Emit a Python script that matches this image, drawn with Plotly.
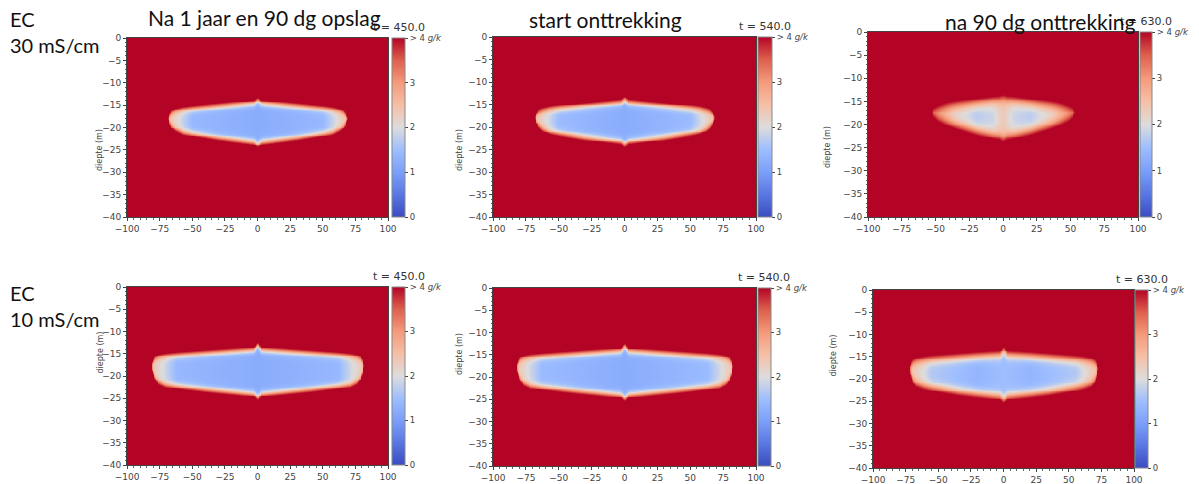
import numpy as np
import plotly.graph_objects as go

W, H = 1199, 484

# ---------------- data ----------------
row_labels = ["EC<br>30 mS/cm", "EC<br>10 mS/cm"]
col_titles = ["Na 1 jaar en 90 dg opslag", "start onttrekking", "na 90 dg onttrekking"]
times = [450.0, 540.0, 630.0]

x_ticks = [-100, -75, -50, -25, 0, 25, 50, 75, 100]
y_ticks = [0, -5, -10, -15, -20, -25, -30, -35, -40]
cbar_ticks = [0, 1, 2, 3, 4]
cbar_ticktext = ["0", "1", "2", "3", "> 4 <i>g/k</i>"]
y_title = "diepte (m)"

# fresh-water bubble outlines (x in m, top / bottom depth in m)
# row 1 (30 mS/cm)
a_x = [-68.5, -67.5, -66, -63, -57, -30, -3, 0, 3, 30, 57, 63, 66, 67.5, 68.5]
a_top = [-17.7, -16.9, -16.3, -15.9, -15.6, -14.9, -14.2, -13.6, -14.2, -14.9, -15.6, -15.9, -16.3, -16.9, -17.7]
a_bot = [-18.1, -19.2, -19.9, -20.6, -21.3, -22.5, -23.4, -24.0, -23.4, -22.5, -21.3, -20.6, -19.9, -19.2, -18.1]
a_core_x = [-66, -50, 0, 50, 66]
a_core_v = [2.3, 1.4, 1.2, 1.4, 2.3]

b_x = [-68, -67, -65.5, -62.5, -57, -30, -3, 0, 3, 30, 57, 62.5, 65.5, 67, 68]
b_top = [-17.6, -16.8, -16.2, -15.9, -15.6, -14.9, -14.2, -13.6, -14.2, -14.9, -15.6, -15.9, -16.2, -16.8, -17.6]
b_bot = [-18.1, -19.2, -19.9, -20.6, -21.3, -22.5, -23.4, -24.0, -23.4, -22.5, -21.3, -20.6, -19.9, -19.2, -18.1]
b_core_x = [-65, -50, 0, 50, 65]
b_core_v = [2.3, 1.45, 1.2, 1.45, 2.3]

c_x = [-52.5, -51, -48.5, -44, -40, -20, -3, 0, 3, 20, 40, 44, 48.5, 51, 52.5]
c_top = [-17.0, -16.4, -16.1, -15.8, -15.6, -15.0, -14.3, -14.0, -14.3, -15.0, -15.6, -15.8, -16.1, -16.4, -17.0]
c_bot = [-17.6, -18.4, -19.0, -19.5, -19.9, -21.5, -22.7, -23.2, -22.7, -21.5, -19.9, -19.5, -19.0, -18.4, -17.6]
c_core_x = [-50, -35, -20, -8, 0, 8, 20, 35, 50]
c_core_v = [3.0, 2.1, 1.7, 1.85, 2.35, 1.85, 1.7, 2.1, 3.0]

# row 2 (10 mS/cm)
d_x = [-81, -80, -78.5, -76, -71, -40, -3, 0, 3, 40, 71, 76, 78.5, 80, 81]
d_top = [-17.3, -16.2, -15.6, -15.3, -15.1, -14.5, -13.8, -12.7, -13.8, -14.5, -15.1, -15.3, -15.6, -16.2, -17.3]
d_bot = [-17.9, -19.6, -20.8, -21.6, -22.2, -23.2, -24.2, -25.0, -24.2, -23.2, -22.2, -21.6, -20.8, -19.6, -17.9]
d_core_x = [-79, -62, 0, 62, 79]
d_core_v = [2.3, 1.4, 1.2, 1.4, 2.3]

e_x = [-82, -81, -79.5, -77, -72, -40, -3, 0, 3, 40, 72, 77, 79.5, 81, 82]
e_top = [-17.3, -16.2, -15.6, -15.3, -15.1, -14.5, -13.8, -12.7, -13.8, -14.5, -15.1, -15.3, -15.6, -16.2, -17.3]
e_bot = [-17.9, -19.6, -20.8, -21.6, -22.2, -23.2, -24.2, -25.0, -24.2, -23.2, -22.2, -21.6, -20.8, -19.6, -17.9]
e_core_x = [-80, -63, 0, 63, 80]
e_core_v = [2.3, 1.45, 1.2, 1.45, 2.3]

f_x = [-72, -71, -69.5, -67, -61, -35, -3, 0, 3, 35, 61, 67, 69.5, 71, 72]
f_top = [-17.4, -16.3, -15.8, -15.5, -15.3, -14.8, -14.2, -13.2, -14.2, -14.8, -15.3, -15.5, -15.8, -16.3, -17.4]
f_bot = [-17.9, -19.5, -20.6, -21.3, -21.8, -23.0, -24.0, -24.8, -24.0, -23.0, -21.8, -21.3, -20.6, -19.5, -17.9]
f_core_x = [-70, -55, -20, 0, 20, 55, 70]
f_core_v = [2.4, 1.65, 1.35, 1.5, 1.35, 1.65, 2.4]

fringe_w = [0.38, 0.40, 0.65, 0.38, 0.40, 0.55]

panels_data = [
    (a_x, a_top, a_bot, a_core_x, a_core_v),
    (b_x, b_top, b_bot, b_core_x, b_core_v),
    (c_x, c_top, c_bot, c_core_x, c_core_v),
    (d_x, d_top, d_bot, d_core_x, d_core_v),
    (e_x, e_top, e_bot, e_core_x, e_core_v),
    (f_x, f_top, f_bot, f_core_x, f_core_v),
]

# ---------------- layout geometry (pixels) ----------------
# plot box: x0, x1, y0(top), y1(bottom); colorbar x0, x1
boxes = [
    (127, 388, 38, 217, 392, 405),
    (493, 756, 37, 217, 758, 772),
    (868, 1138, 32, 217, 1140, 1152),
    (127, 388, 287, 465, 392, 405),
    (493, 756, 288, 466, 758, 771),
    (873, 1134, 290, 468, 1135, 1148),
]

coolwarm = [
    [0.0, "#3b4cc0"], [0.125, "#5977e3"], [0.25, "#7b9ff9"], [0.375, "#9ebeff"],
    [0.5, "#dddcdc"], [0.625, "#f6bfa6"], [0.75, "#f49a7b"], [0.875, "#de604d"],
    [1.0, "#b40426"],
]

xg = np.arange(-100, 100.01, 0.5)
yg = np.arange(-40, 0.001, 0.2)
XX, YY = np.meshgrid(xg, yg)


def build_field(ox, otop, obot, cx, cv, w):
    top = np.interp(XX, ox, otop)
    bot = np.interp(XX, ox, obot)
    dist = np.minimum.reduce([top - YY, YY - bot, (XX - ox[0]), (ox[-1] - XX)])
    core = np.interp(XX, cx, cv)
    s = 1.0 / (1.0 + np.exp(-(0.25 - dist) / w))
    v = core + (4.5 - core) * s
    return np.round(np.clip(v, 0, 4.5), 3)


def px(xp):
    return xp / W


def py(yp):
    return 1 - yp / H


fig = go.Figure()
tickfont = dict(family="DejaVu Sans", size=9, color="#444")
annotations = []

for i, ((ox, ot, ob, cx, cv), w, (x0, x1, y0, y1, c0, c1)) in enumerate(zip(panels_data, fringe_w, boxes)):
    n = i + 1
    z = build_field(ox, ot, ob, cx, cv, w)
    xa = "x" if n == 1 else f"x{n}"
    ya = "y" if n == 1 else f"y{n}"
    fig.add_trace(go.Heatmap(
        x=xg, y=yg, z=z, xaxis=xa, yaxis=ya,
        colorscale=coolwarm, zmin=0, zmax=4, zsmooth="best",
        hoverinfo="skip",
        colorbar=dict(
            x=px(c0), xanchor="left", xpad=0, ypad=0,
            y=py(y1), yanchor="bottom", len=(y1 - y0) / H, lenmode="fraction",
            thickness=c1 - c0, thicknessmode="pixels",
            outlinewidth=1, outlinecolor="#888",
            tickvals=cbar_ticks, ticktext=cbar_ticktext,
            ticks="outside", ticklen=3, tickcolor="#444",
            tickfont=dict(family="DejaVu Sans", size=8.5, color="#444"),
        ),
    ))
    xkey = "xaxis" if n == 1 else f"xaxis{n}"
    ykey = "yaxis" if n == 1 else f"yaxis{n}"
    fig.layout[xkey] = dict(
        domain=[px(x0), px(x1)], anchor=ya, range=[-100, 100],
        tickvals=x_ticks, ticks="outside", ticklen=3, tickcolor="#444",
        tickfont=tickfont, showgrid=False, zeroline=False,
        showline=True, linecolor="#444", linewidth=1, mirror=True,
        minor=dict(dtick=5, ticks="outside", ticklen=1.5, tickcolor="#666"),
        automargin=False, fixedrange=True,
    )
    fig.layout[ykey] = dict(
        domain=[py(y1), py(y0)], anchor=xa, range=[-40, 0],
        tickvals=y_ticks, ticks="outside", ticklen=3, tickcolor="#444",
        tickfont=tickfont, showgrid=False, zeroline=False,
        showline=True, linecolor="#444", linewidth=1, mirror=True,
        minor=dict(dtick=1, ticks="outside", ticklen=1.5, tickcolor="#666"),
        automargin=False, fixedrange=True,
    )
    # y axis title
    annotations.append(dict(
        x=px(x0 - 34), y=py((y0 + y1) / 2), xref="paper", yref="paper",
        text=y_title, textangle=-90, showarrow=False,
        font=dict(family="DejaVu Sans", size=8, color="#444"),
    ))
    # time label above colorbar
    annotations.append(dict(
        x=px((c0 + c1) / 2), y=py(y0 - 2), xref="paper", yref="paper",
        xanchor="center", yanchor="bottom",
        text=f"t = {times[i % 3]:.1f}", showarrow=False,
        font=dict(family="DejaVu Sans", size=11, color="#333"),
    ))

# column titles (row 1 only)
title_pos = [(264, 18), (606, 19), (1040, 21)]
for t, (cxp, cyp) in zip(col_titles, title_pos):
    annotations.append(dict(
        x=px(cxp), y=py(cyp), xref="paper", yref="paper",
        xanchor="center", yanchor="middle", text=t, showarrow=False,
        font=dict(family="Lato", size=21, color="#111"),
    ))

# row labels
row_pos = [(8, 32), (8, 306)]
for t, (rx, ry) in zip(row_labels, row_pos):
    annotations.append(dict(
        x=px(rx), y=py(ry), xref="paper", yref="paper",
        xanchor="left", yanchor="middle", align="left", text=t, showarrow=False,
        font=dict(family="Lato", size=20, color="#111"),
    ))

fig.update_layout(
    width=W, height=H, margin=dict(l=0, r=0, t=0, b=0),
    paper_bgcolor="white", plot_bgcolor="white",
    showlegend=False, annotations=annotations,
)

fig.write_html("out.html", config={"displayModeBar": False},
               post_script="document.body.style.margin='0';")
